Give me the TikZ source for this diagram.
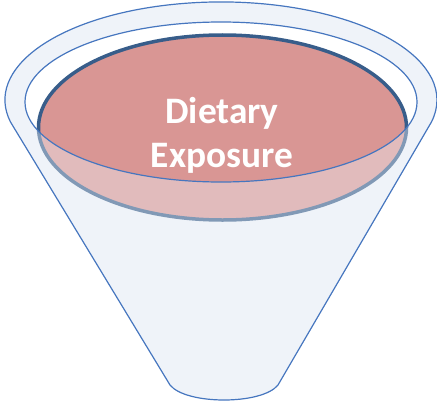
\documentclass[tikz,border=0pt]{standalone}
\usepackage{fontspec}
\setmainfont{Carlito}

\definecolor{rimblue}{HTML}{4676BF}
\definecolor{glassfill}{HTML}{EFF3F9}
\definecolor{liquidred}{HTML}{D99694}
\definecolor{liquidedge}{HTML}{385D8A}

\begin{document}
\begin{tikzpicture}[
    x=1bp, y=1bp,
    rim/.style={draw=rimblue, line width=1.2bp},
    liquid/.style={fill=liquidred, draw=liquidedge, line width=3.5bp},
    frontglass/.style={fill=glassfill, fill opacity=0.4, even odd rule},
    tagtext/.style={text=white, font=\bfseries\fontsize{37.5}{44}\selectfont, align=center}
]
  \useasboundingbox (0,0) rectangle (437,401);
  % Funnel corners and centres
  \coordinate (lip left) at (10.5,279);
  \coordinate (spout right) at (278,16);
  \coordinate (spout left) at (170,16);
  \coordinate (cup) at (221,299);
  \coordinate (pool) at (222.5,273.5);

  % Funnel body
  \fill[glassfill] (lip left) arc[start angle=193, end angle=-13, x radius=216bp, y radius=98bp]
    -- (spout right) .. controls +(-16,-20) and +(16,-20) .. (spout left) -- cycle;
  % Opening
  \fill[white] (cup) ellipse[x radius=196bp, y radius=80bp];
  % Liquid
  \draw[liquid] (pool) ellipse[x radius=184bp, y radius=92.5bp];
  % Front wall over the liquid
  \fill[frontglass] (lip left) arc[start angle=193, end angle=-13, x radius=216bp, y radius=98bp]
    -- (spout right) .. controls +(-16,-20) and +(16,-20) .. (spout left) -- cycle
    (cup) ellipse[x radius=196bp, y radius=80bp];
  % Outlines
  \draw[rim] (lip left) arc[start angle=193, end angle=-13, x radius=216bp, y radius=98bp]
    -- (spout right) .. controls +(-16,-20) and +(16,-20) .. (spout left) -- cycle;
  \draw[rim] (cup) ellipse[x radius=196bp, y radius=80bp];

  \node[tagtext] (title) at (222,266) {Dietary\\Exposure};
\end{tikzpicture}
\end{document}
